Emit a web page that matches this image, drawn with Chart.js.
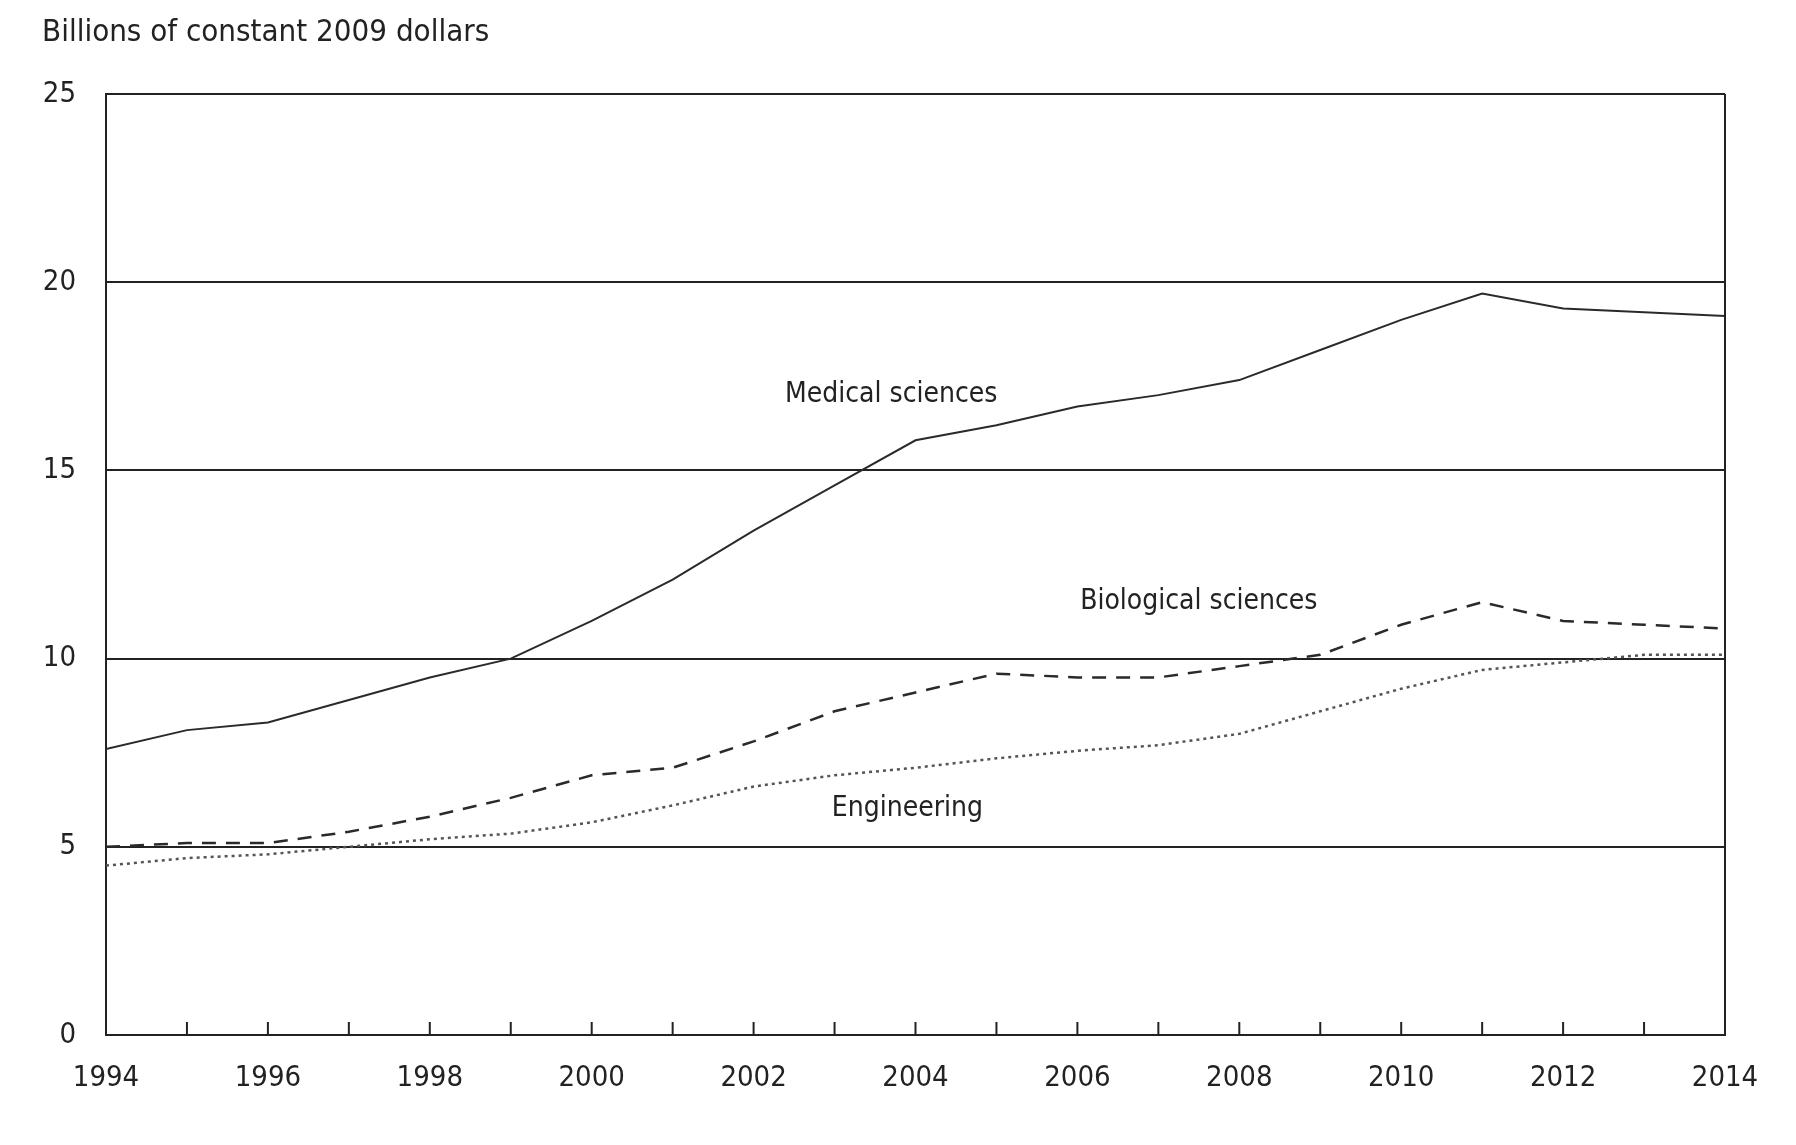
<!DOCTYPE html>
<html lang="en">
<head>
<meta charset="UTF-8">
<title>Research obligations by field</title>
<script src="https://cdn.jsdelivr.net/npm/chart.js"></script>
<style>
  html, body { margin: 0; padding: 0; background: #fff; }
  #wrap { width: 1796px; height: 1145px; }
</style>
</head>
<body>
<div id="wrap"><canvas id="chart"></canvas></div>
<script>
// values (billions of constant 2009 dollars)
const years = [1994, 1995, 1996, 1997, 1998, 1999, 2000, 2001, 2002, 2003, 2004,
               2005, 2006, 2007, 2008, 2009, 2010, 2011, 2012, 2013, 2014];
const medical = [7.6, 8.1, 8.3, 8.9, 9.5, 10.0, 11.0, 12.1, 13.4, 14.6, 15.8,
                 16.2, 16.7, 17.0, 17.4, 18.2, 19.0, 19.7, 19.3, 19.2, 19.1];
const biological = [5.0, 5.1, 5.1, 5.4, 5.8, 6.3, 6.9, 7.1, 7.8, 8.6, 9.1,
                    9.6, 9.5, 9.5, 9.8, 10.1, 10.9, 11.5, 11.0, 10.9, 10.8];
const engineering = [4.5, 4.7, 4.8, 5.0, 5.2, 5.35, 5.65, 6.1, 6.6, 6.9, 7.1,
                     7.35, 7.55, 7.7, 8.0, 8.6, 9.2, 9.7, 9.9, 10.1, 10.1];
const yTicks = [0, 5, 10, 15, 20, 25];
const unitLabel = 'Billions of constant 2009 dollars';

// in-chart series labels, placed in data units
const notes = [
  { text: 'Medical sciences', year: 2003.7, value: 17.0 },
  { text: 'Biological sciences', year: 2007.5, value: 11.5 },
  { text: 'Engineering', year: 2003.9, value: 6.0 }
];

const FONT = '"Liberation Sans Narrow", "DejaVu Sans Condensed", "Liberation Sans", Arial, sans-serif';
const INK = '#222';

const toPoints = vals => years.map((yr, i) => ({ x: yr, y: vals[i] }));

// frame, inward year ticks, unit label and series labels
const extras = {
  id: 'extras',
  afterDatasetsDraw(chart) {
    const { ctx, chartArea: a, scales: { x, y } } = chart;
    ctx.save();
    ctx.strokeStyle = INK;
    ctx.lineWidth = 2;
    ctx.beginPath();
    ctx.moveTo(a.right, a.top);
    ctx.lineTo(a.right, a.bottom);
    years.forEach(yr => {
      const px = x.getPixelForValue(yr);
      ctx.moveTo(px, a.bottom);
      ctx.lineTo(px, a.bottom - 13);
    });
    ctx.stroke();

    ctx.fillStyle = INK;
    ctx.font = '31px ' + FONT;
    ctx.textAlign = 'left';
    ctx.textBaseline = 'middle';
    ctx.fillText(unitLabel, 42, 33);

    ctx.font = '28px ' + FONT;
    ctx.textAlign = 'center';
    notes.forEach(n => {
      ctx.fillText(n.text, x.getPixelForValue(n.year), y.getPixelForValue(n.value));
    });
    ctx.restore();
  }
};

new Chart(document.getElementById('chart'), {
  type: 'line',
  data: {
    datasets: [
      {
        label: 'Medical sciences',
        data: toPoints(medical),
        borderColor: '#2a2a2a',
        borderWidth: 2,
        pointRadius: 0,
        tension: 0
      },
      {
        label: 'Biological sciences',
        data: toPoints(biological),
        borderColor: '#2a2a2a',
        borderWidth: 2.5,
        borderDash: [14, 10],
        pointRadius: 0,
        tension: 0
      },
      {
        label: 'Engineering',
        data: toPoints(engineering),
        borderColor: '#555',
        borderWidth: 2.5,
        borderDash: [3, 4],
        pointRadius: 0,
        tension: 0
      }
    ]
  },
  options: {
    responsive: true,
    maintainAspectRatio: false,
    animation: false,
    layout: { padding: { top: 94, right: 71, bottom: 0, left: 0 } },
    plugins: { legend: { display: false }, tooltip: { enabled: false } },
    scales: {
      x: {
        type: 'linear',
        min: years[0],
        max: years[years.length - 1],
        grid: { display: false, drawTicks: false },
        border: { display: true, color: INK, width: 2 },
        afterBuildTicks: s => { s.ticks = years.filter((yr, i) => i % 2 === 0).map(v => ({ value: v })); },
        afterFit: s => { s.height = 1145 - 1035; },
        ticks: {
          color: INK,
          font: { family: FONT, size: 29 },
          padding: 26,
          maxRotation: 0,
          autoSkip: false,
          callback: v => String(v)
        }
      },
      y: {
        min: 0,
        max: 25,
        afterBuildTicks: s => { s.ticks = yTicks.map(v => ({ value: v })); },
        afterFit: s => { s.width = 106; },
        grid: { color: INK, lineWidth: 2, drawTicks: false },
        border: { display: true, color: INK, width: 2 },
        ticks: {
          color: INK,
          font: { family: FONT, size: 29 },
          padding: 30
        }
      }
    }
  },
  plugins: [extras]
});
</script>
</body>
</html>
